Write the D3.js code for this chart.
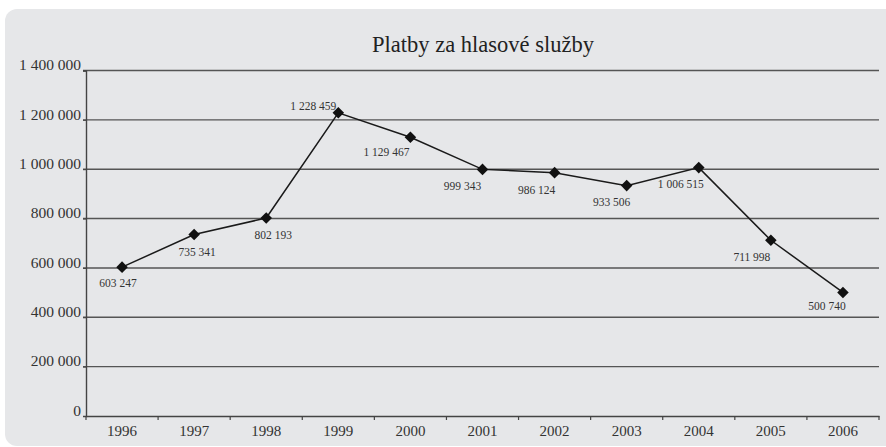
<!DOCTYPE html>
<html><head><meta charset="utf-8">
<script src="https://cdn.jsdelivr.net/npm/d3@7"></script>
<style>html,body{margin:0;padding:0;background:#fff;}svg{display:block;}</style>
</head><body>
<svg id="chart" width="886" height="447"></svg>
<script>
const title = "Platby za hlasové služby";
const years = ["1996","1997","1998","1999","2000","2001","2002","2003","2004","2005","2006"];
const values = [603247, 735341, 802193, 1228459, 1129467, 999343, 986124, 933506, 1006515, 711998, 500740];
const yTicks = [0, 200000, 400000, 600000, 800000, 1000000, 1200000, 1400000];

// label placement (layout, not data)
const labelDx = [-4, 3, 7, -25, -24, -20, -18, -15, -18, -19, -16];
const labelDy = [16, 17, 17, -7, 15, 17, 17, 16, 16, 17, 14];

const svg = d3.select("#chart");
const font = "'Liberation Serif', 'DejaVu Serif', serif";
const fmt = v => d3.format(",")(v).replace(/,/g, " ");

svg.append("rect").attr("x",5).attr("y",9).attr("width",895).attr("height",437)
  .attr("rx",12).attr("fill","#e6e7e9");

const m = {left:86, right:879, top:70.5, bottom:416};
const x = d3.scaleBand().domain(years).range([m.left, m.right]);
const y = d3.scaleLinear().domain([0,1400000]).range([m.bottom, m.top]);

svg.append("text").attr("x",483).attr("y",52).attr("text-anchor","middle")
  .attr("font-family",font).attr("font-size",22.5).attr("fill","#222").text(title);

// gridlines
svg.append("g").selectAll("line").data(yTicks.filter(d=>d>0)).join("line")
  .attr("x1",m.left-3).attr("x2",m.right).attr("y1",d=>y(d)).attr("y2",d=>y(d))
  .attr("stroke","#555").attr("stroke-width",1.4);

// y axis
const ya = svg.append("g").attr("transform",`translate(${m.left},0)`)
  .call(d3.axisLeft(y).tickValues(yTicks).tickFormat(fmt).tickSize(3).tickPadding(2));
ya.select(".domain").attr("stroke","#444").attr("stroke-width",1.4);
ya.selectAll(".tick line").attr("stroke","#444");
ya.selectAll("text").attr("font-family",font).attr("font-size",15.5).attr("fill","#333").attr("dy","-0.05em");

// x axis
const xa = svg.append("g").attr("transform",`translate(0,${m.bottom})`)
  .call(d3.axisBottom(x).tickSize(0).tickPadding(6));
xa.select(".domain").attr("stroke","#444").attr("stroke-width",1.4);
xa.selectAll("text").attr("font-family",font).attr("font-size",15).attr("fill","#333").attr("dy","0.9em");
const bounds = years.map((d,i)=>x(d)+x.bandwidth()).concat([m.left]);
xa.selectAll(".bt").data(bounds).join("line").attr("class","bt")
  .attr("x1",d=>d).attr("x2",d=>d).attr("y1",0).attr("y2",4).attr("stroke","#444").attr("stroke-width",1.2);

const cx = d => x(d) + x.bandwidth()/2;
const line = d3.line().x((d,i)=>cx(years[i])).y(d=>y(d));
svg.append("path").datum(values).attr("d",line).attr("fill","none")
  .attr("stroke","#1a1a1a").attr("stroke-width",1.5);

svg.append("g").selectAll("path").data(values).join("path")
  .attr("d", d3.symbol().type(d3.symbolDiamond2).size(85))
  .attr("transform",(d,i)=>`translate(${cx(years[i])},${y(d)})`)
  .attr("fill","#111");

svg.append("g").selectAll("text").data(values).join("text")
  .attr("x",(d,i)=>cx(years[i])+labelDx[i]).attr("y",(d,i)=>y(d)+labelDy[i])
  .attr("dy","0.35em").attr("text-anchor","middle")
  .attr("font-family",font).attr("font-size",11.5).attr("fill","#333").text(d=>fmt(d));
</script>
</body></html>
